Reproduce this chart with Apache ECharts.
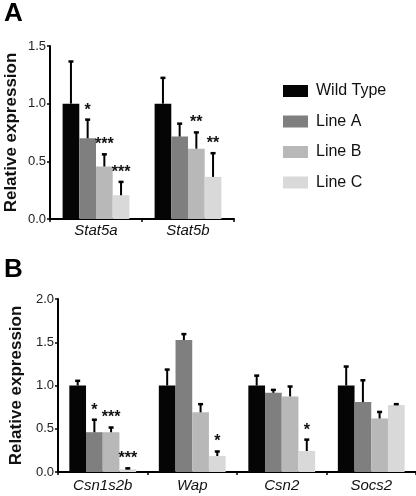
<!DOCTYPE html>
<html>
<head>
<meta charset="utf-8">
<script src="https://cdn.jsdelivr.net/npm/echarts@6/dist/echarts.min.js"></script>
<style>html,body{margin:0;padding:0;background:#fff;}#c{width:416px;height:496px;}</style>
</head>
<body>
<div id="c"></div>
<script>
// ---- Data ----
const seriesNames = ['Wild Type', 'Line A', 'Line B', 'Line C'];

const categoriesA = ['Stat5a', 'Stat5b'];
const wildTypeA = [1.00, 1.00];
const lineA_A   = [0.70, 0.715];
const lineB_A   = [0.455, 0.61];
const lineC_A   = [0.206, 0.365];
const wildTypeA_err = [0.37, 0.228];
const lineA_A_err   = [0.166, 0.116];
const lineB_A_err   = [0.11, 0.145];
const lineC_A_err   = [0.12, 0.21];
const wildTypeA_sig = ['', ''];
const lineA_A_sig   = ['*', ''];
const lineB_A_sig   = ['***', '**'];
const lineC_A_sig   = ['***', '**'];

const categoriesB = ['Csn1s2b', 'Wap', 'Csn2', 'Socs2'];
const wildTypeB = [1.00, 1.00, 1.00, 1.00];
const lineA_B   = [0.46, 1.525, 0.915, 0.808];
const lineB_B   = [0.46, 0.69, 0.874, 0.619];
const lineC_B   = [0.03, 0.185, 0.243, 0.776];
const wildTypeB_err = [0.06, 0.19, 0.12, 0.225];
const lineA_B_err   = [0.15, 0.075, 0.04, 0.258];
const lineB_B_err   = [0.06, 0.10, 0.12, 0.081];
const lineC_B_err   = [0.018, 0.058, 0.137, 0.014];
const wildTypeB_sig = ['', '', '', ''];
const lineA_B_sig   = ['*', '', '', ''];
const lineB_B_sig   = ['***', '', '', ''];
const lineC_B_sig   = ['***', '*', '*', ''];

const colors = ['#050505', '#7f7f7f', '#b8b8b8', '#d9d9d9'];
const BW = 16.7;

const panelA = { vals: [wildTypeA, lineA_A, lineB_A, lineC_A], errs: [wildTypeA_err, lineA_A_err, lineB_A_err, lineC_A_err], sigs: [wildTypeA_sig, lineA_A_sig, lineB_A_sig, lineC_A_sig] };
const panelB = { vals: [wildTypeB, lineA_B, lineB_B, lineC_B], errs: [wildTypeB_err, lineA_B_err, lineB_B_err, lineC_B_err], sigs: [wildTypeB_sig, lineA_B_sig, lineB_B_sig, lineC_B_sig] };

function makeSeries(panel, axisIdx) {
  const out = [];
  panel.vals.forEach((v, k) => {
    out.push({
      name: seriesNames[k], type: 'bar', xAxisIndex: axisIdx, yAxisIndex: axisIdx,
      data: v, barWidth: BW, barGap: '0%', itemStyle: { color: colors[k] }, silent: true,
      z: 2
    });
  });
  panel.vals.forEach((v, k) => {
    const sig = panel.sigs[k];
    out.push({
      name: 'err' + axisIdx + '_' + k, type: 'custom', xAxisIndex: axisIdx, yAxisIndex: axisIdx,
      data: v.map((m, i) => [i, m, panel.errs[k][i]]), z: 5, silent: true,
      renderItem: function (params, api) {
        const i = api.value(0), m = api.value(1), e = api.value(2);
        const x = api.coord([i, 0])[0] + (k - 1.5) * BW;
        const yTop = api.coord([i, m])[1];
        const yErr = api.coord([i, m + e])[1];
        const children = [
          { type: 'line', shape: { x1: x, y1: yTop, x2: x, y2: yErr }, style: { stroke: '#000', lineWidth: 2 } },
          { type: 'line', shape: { x1: x - 2.5, y1: yErr + 0.5, x2: x + 2.5, y2: yErr + 0.5 }, style: { stroke: '#000', lineWidth: 2.5 } }
        ];
        const s = sig[params.dataIndex];
        if (s) {
          children.push({ type: 'text', x: x, y: yErr - 9, style: { text: s, fill: '#111', font: 'bold 16px "Liberation Sans", Arial, sans-serif', textAlign: 'center', textVerticalAlign: 'middle' } });
        }
        return { type: 'group', children: children };
      }
    });
  });
  return out;
}

const yAxisCommon = {
  type: 'value', min: 0, interval: 0.5,
  name: 'Relative expression', nameLocation: 'middle', nameGap: 30,
  nameTextStyle: { fontSize: 17, fontWeight: 'bold', color: '#111', fontFamily: 'Liberation Sans' },
  axisLine: { show: true, lineStyle: { color: '#000', width: 2 } },
  axisTick: { show: true, length: 3, lineStyle: { color: '#000', width: 1.5 } },
  axisLabel: { fontSize: 13, color: '#222', margin: 4, fontFamily: 'Liberation Sans', formatter: v => v.toFixed(1) },
  splitLine: { show: false }
};
const xAxisCommon = {
  type: 'category',
  axisLine: { show: true, lineStyle: { color: '#000', width: 2 } },
  axisTick: { show: true, length: 3, lineStyle: { color: '#000', width: 1.5 } },
  axisLabel: { fontSize: 15, fontStyle: 'italic', color: '#111', fontFamily: 'Liberation Sans' }
};

const chart = echarts.init(document.getElementById('c'), null, { renderer: 'canvas' });
chart.setOption({
  animation: false,
  backgroundColor: '#fff',
  grid: [
    { left: 50, right: 182, top: 46, bottom: 277 },
    { left: 50, right: 0, top: 299, bottom: 24 }
  ],
  xAxis: [
    Object.assign({}, xAxisCommon, { gridIndex: 0, data: categoriesA, axisLabel: Object.assign({}, xAxisCommon.axisLabel, { margin: 4 }) }),
    Object.assign({}, xAxisCommon, { gridIndex: 1, data: categoriesB, axisLabel: Object.assign({}, xAxisCommon.axisLabel, { margin: 6 }) })
  ],
  yAxis: [
    Object.assign({}, yAxisCommon, { gridIndex: 0, max: 1.5 }),
    Object.assign({}, yAxisCommon, { gridIndex: 1, max: 2.0 })
  ],
  legend: {
    data: seriesNames, orient: 'vertical', left: 283, top: 82, padding: 0,
    icon: 'rect', itemWidth: 25, itemHeight: 12, itemGap: 12.5,
    textStyle: { fontSize: 16, color: '#111', lineHeight: 18, fontFamily: 'Liberation Sans', padding: [0, 0, 0, 3] },
    selectedMode: false
  },
  graphic: [
    { type: 'text', left: 4, top: 1, style: { text: 'A', font: 'bold 26px "Liberation Sans", Arial, sans-serif', fill: '#000' } },
    { type: 'text', left: 4, top: 257, style: { text: 'B', font: 'bold 26px "Liberation Sans", Arial, sans-serif', fill: '#000' } }
  ],
  series: makeSeries(panelA, 0).concat(makeSeries(panelB, 1))
});
</script>
</body>
</html>
